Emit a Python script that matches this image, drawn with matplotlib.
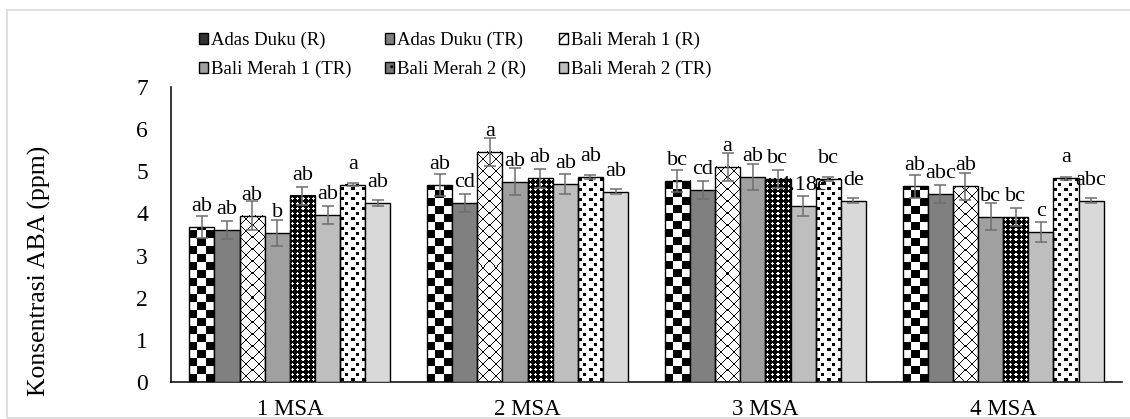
#!/usr/bin/env python3

import numpy as np
import matplotlib

matplotlib.use("Agg")
import matplotlib.pyplot as plt
from matplotlib.patches import Patch, Rectangle


OUTPUT_PNG = "out.png"

GROUPS = ["1 MSA", "2 MSA", "3 MSA", "4 MSA"]

LEGEND_NAMES = [
    "Adas Duku (R)",
    "Adas Duku (TR)",
    "Bali Merah 1 (R)",
    "Bali Merah 1 (TR)",
    "Bali Merah 2 (R)",
    "Bali Merah 2 (TR)",
]

# mean ABA (ppm) per group
adas_duku_r = [3.67, 4.67, 4.77, 4.64]
adas_duku_tr = [3.60, 4.25, 4.56, 4.46]
bali1_r = [3.95, 5.46, 5.11, 4.64]
bali1_tr = [3.54, 4.75, 4.86, 3.92]
bali2_r = [4.42, 4.83, 4.82, 3.91]
bali2_tr = [3.96, 4.70, 4.18, 3.56]
series7 = [4.68, 4.86, 4.82, 4.83]
series8 = [4.24, 4.52, 4.30, 4.30]

# error bar half lengths
adas_duku_r_err = [0.26, 0.26, 0.27, 0.27]
adas_duku_tr_err = [0.21, 0.21, 0.22, 0.22]
bali1_r_err = [0.35, 0.33, 0.33, 0.33]
bali1_tr_err = [0.31, 0.32, 0.31, 0.32]
bali2_r_err = [0.21, 0.22, 0.22, 0.22]
bali2_tr_err = [0.22, 0.23, 0.23, 0.24]
series7_err = [0.04, 0.04, 0.04, 0.04]
series8_err = [0.07, 0.06, 0.06, 0.06]

# significance letters
adas_duku_r_lbl = ["ab", "ab", "bc", "ab"]
adas_duku_tr_lbl = ["ab", "cd", "cd", "abc"]
bali1_r_lbl = ["ab", "a", "a", "ab"]
bali1_tr_lbl = ["b", "ab", "ab", "bc"]
bali2_r_lbl = ["ab", "ab", "bc", "bc"]
bali2_tr_lbl = ["ab", "ab", "4.18e", "c"]
series7_lbl = ["a", "ab", "bc", "a"]
series8_lbl = ["ab", "ab", "de", "abc"]


def make_tile(kind):
    if kind == "checker":
        tile = np.ones((16, 16))
        tile[:8, :8] = 0
        tile[8:, 8:] = 0
    elif kind == "diamond":
        n = 12
        i, j = np.indices((n, n))
        tile = np.ones((n, n))
        tile[(i == j) | (i + j == n - 1)] = 0
    elif kind == "dense":
        n = 5
        i, j = np.indices((n, n))
        tile = np.zeros((n, n))
        tile[(np.abs(i - 2) + np.abs(j - 2)) <= 1] = 1
    else:  # confetti
        tile = np.ones((10, 10))
        tile[1:4, 1:4] = 0
        tile[6:9, 5:8] = 0
    return tile


def pattern_array(kind, w_px, h_px):
    tile = make_tile(kind)
    th, tw = tile.shape
    big = np.tile(tile, (h_px // th + 2, w_px // tw + 2))
    return big[:h_px, :w_px]


def main():
    plt.rcParams["font.family"] = ["Liberation Serif", "DejaVu Serif"]

    fig = plt.figure(figsize=(11.30, 4.19), dpi=100)
    ax = fig.add_axes([171 / 1130, 37 / 419, 951 / 1130, 295 / 419])
    ax.set_xlim(-0.5, len(GROUPS) - 0.5)
    ax.set_ylim(0, 7)

    values = [adas_duku_r, adas_duku_tr, bali1_r, bali1_tr, bali2_r, bali2_tr, series7, series8]
    errors = [adas_duku_r_err, adas_duku_tr_err, bali1_r_err, bali1_tr_err,
              bali2_r_err, bali2_tr_err, series7_err, series8_err]
    letters = [adas_duku_r_lbl, adas_duku_tr_lbl, bali1_r_lbl, bali1_tr_lbl,
               bali2_r_lbl, bali2_tr_lbl, series7_lbl, series8_lbl]
    styles = [
        ("checker", "none"),
        (None, "#808080"),
        ("diamond", "none"),
        (None, "#A0A0A0"),
        ("dense", "none"),
        (None, "#BEBEBE"),
        ("confetti", "none"),
        (None, "#D9D9D9"),
    ]

    n_series = len(values)
    width = 0.8455 / n_series
    x = np.arange(len(GROUPS))

    for k in range(n_series):
        pos = x + (k - (n_series - 1) / 2) * width
        pattern, face = styles[k]
        bars = ax.bar(pos, values[k], width, color=face, edgecolor="black",
                      linewidth=1.0, zorder=3)
        if pattern is not None:
            for rect in bars:
                x0 = rect.get_x()
                x1 = x0 + rect.get_width()
                h = rect.get_height()
                p0 = ax.transData.transform((x0, 0))
                p1 = ax.transData.transform((x1, h))
                w_px = max(1, int(round(p1[0] - p0[0])))
                h_px = max(1, int(round(p1[1] - p0[1])))
                ax.imshow(pattern_array(pattern, w_px, h_px), cmap="gray", vmin=0, vmax=1,
                          extent=(x0, x1, 0, h), origin="lower", aspect="auto",
                          interpolation="nearest", zorder=2)
        ax.errorbar(pos, values[k], yerr=errors[k], fmt="none", ecolor="#6E6E6E",
                    elinewidth=1.1, capsize=4, capthick=1.1, zorder=4)
        for xi, yi, txt in zip(pos, values[k], letters[k]):
            ax.annotate(txt, (xi, yi), xytext=(0, 11.5), textcoords="offset points",
                        ha="center", va="baseline", fontsize=16, zorder=5)

    ax.set_xlim(-0.5, len(GROUPS) - 0.5)
    ax.set_ylim(0, 7)
    ax.set_xticks(x)
    ax.set_xticklabels(GROUPS, fontsize=16.5)
    ax.set_yticks(range(0, 8))
    ax.tick_params(axis="x", length=0, pad=12.5)
    ax.tick_params(axis="y", length=0, pad=16.5, labelsize=17)
    for side in ("top", "right"):
        ax.spines[side].set_visible(False)
    for side in ("left", "bottom"):
        ax.spines[side].set_linewidth(1.1)
        ax.spines[side].set_color("black")

    fig.text(39 / 1130, 1 - 271 / 419, "Konsentrasi ABA (ppm)", rotation=90,
             ha="center", va="center", fontsize=18.5)

    handles = [
        Patch(facecolor="#333333", edgecolor="black", linewidth=1.0),
        Patch(facecolor="#808080", edgecolor="black", linewidth=1.0),
        Patch(facecolor="white", edgecolor="black", linewidth=1.0, hatch="x"),
        Patch(facecolor="#A0A0A0", edgecolor="black", linewidth=1.0),
        Patch(facecolor="#777777", edgecolor="black", linewidth=1.0, hatch=".."),
        Patch(facecolor="#BEBEBE", edgecolor="black", linewidth=1.0),
    ]
    # ncol legend fills by column, reorder so rows read left to right
    order = [0, 3, 1, 4, 2, 5]
    fig.legend([handles[i] for i in order], [LEGEND_NAMES[i] for i in order],
               ncol=3, loc="upper left", bbox_to_anchor=(199 / 1130, 1 - 32 / 419),
               frameon=False, fontsize=13.5, borderpad=0, borderaxespad=0,
               handlelength=0.5, handleheight=0.55, handletextpad=0.15,
               columnspacing=1.75, labelspacing=0.6)

    fig.patches.append(Rectangle((7 / 1130, 1.3 / 419), 1.2, 407.7 / 419,
                                 transform=fig.transFigure, fill=False,
                                 edgecolor="#D9D9D9", linewidth=1.2))

    fig.savefig(OUTPUT_PNG, dpi=100)
    plt.close(fig)


if __name__ == "__main__":
    main()
